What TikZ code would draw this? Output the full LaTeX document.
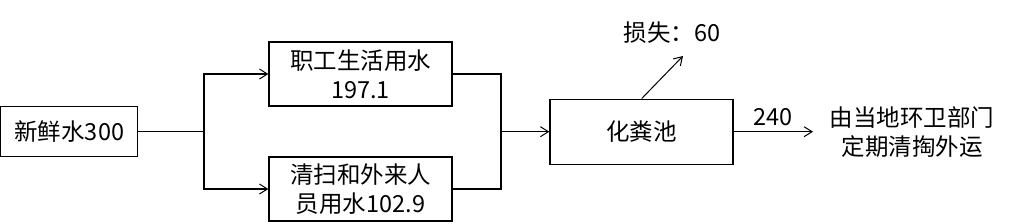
\documentclass[tikz,border=0pt]{standalone}
\usepackage{fontspec}
\setmainfont{Noto Sans CJK SC}
\usetikzlibrary{arrows.meta}
\begin{document}
\begin{tikzpicture}[x=1pt,y=-1pt,
  box/.style={draw,line width=1.3pt,inner sep=0pt,align=center,font=\fontsize{23.5}{29}\selectfont},
  lbl/.style={inner sep=0pt,align=center,font=\fontsize{23.5}{29}\selectfont},
  conn/.style={line width=1.3pt},
  arr/.style={line width=1.3pt,-{Straight Barb[length=8pt,width=10pt,line width=1pt]}}]
\useasboundingbox (0,0) rectangle (1010,223);
\node[box,minimum width=137pt,minimum height=50pt] (b1) at (69.3,131.7) {新鲜水300};
\node[box,minimum width=183pt,minimum height=64pt] (b2) at (360.5,74) {职工生活用水\\197.1};
\node[box,minimum width=183pt,minimum height=64pt] (b3) at (360.5,189) {清扫和外来人\\员用水102.9};
\node[box,minimum width=183pt,minimum height=65pt] (b4) at (641.5,131.7) {化粪池};
\node[lbl] (loss) at (672,33) {损失：60};
\node[lbl] (out) at (912,132.5) {由当地环卫部门\\定期清掏外运};
\coordinate (s) at (204,131.7);
\coordinate (m) at (501,131.7);
\coordinate (lossend) at (683,56);
\coordinate (outend) at (813,131.7);
\draw[conn] (b1.east) -- (s);
\draw[arr] (s) |- (b2.west);
\draw[arr] (s) |- (b3.west);
\draw[conn] (b2.east) -| (m);
\draw[conn] (b3.east) -| (m);
\draw[arr] (m) -- (b4.west);
\draw[arr,line width=1pt] (b4.north) ++(0.2,0) -- (lossend);
\draw[arr] (b4.east) -- node[lbl,above=5pt] {240} (outend);
\end{tikzpicture}
\end{document}
